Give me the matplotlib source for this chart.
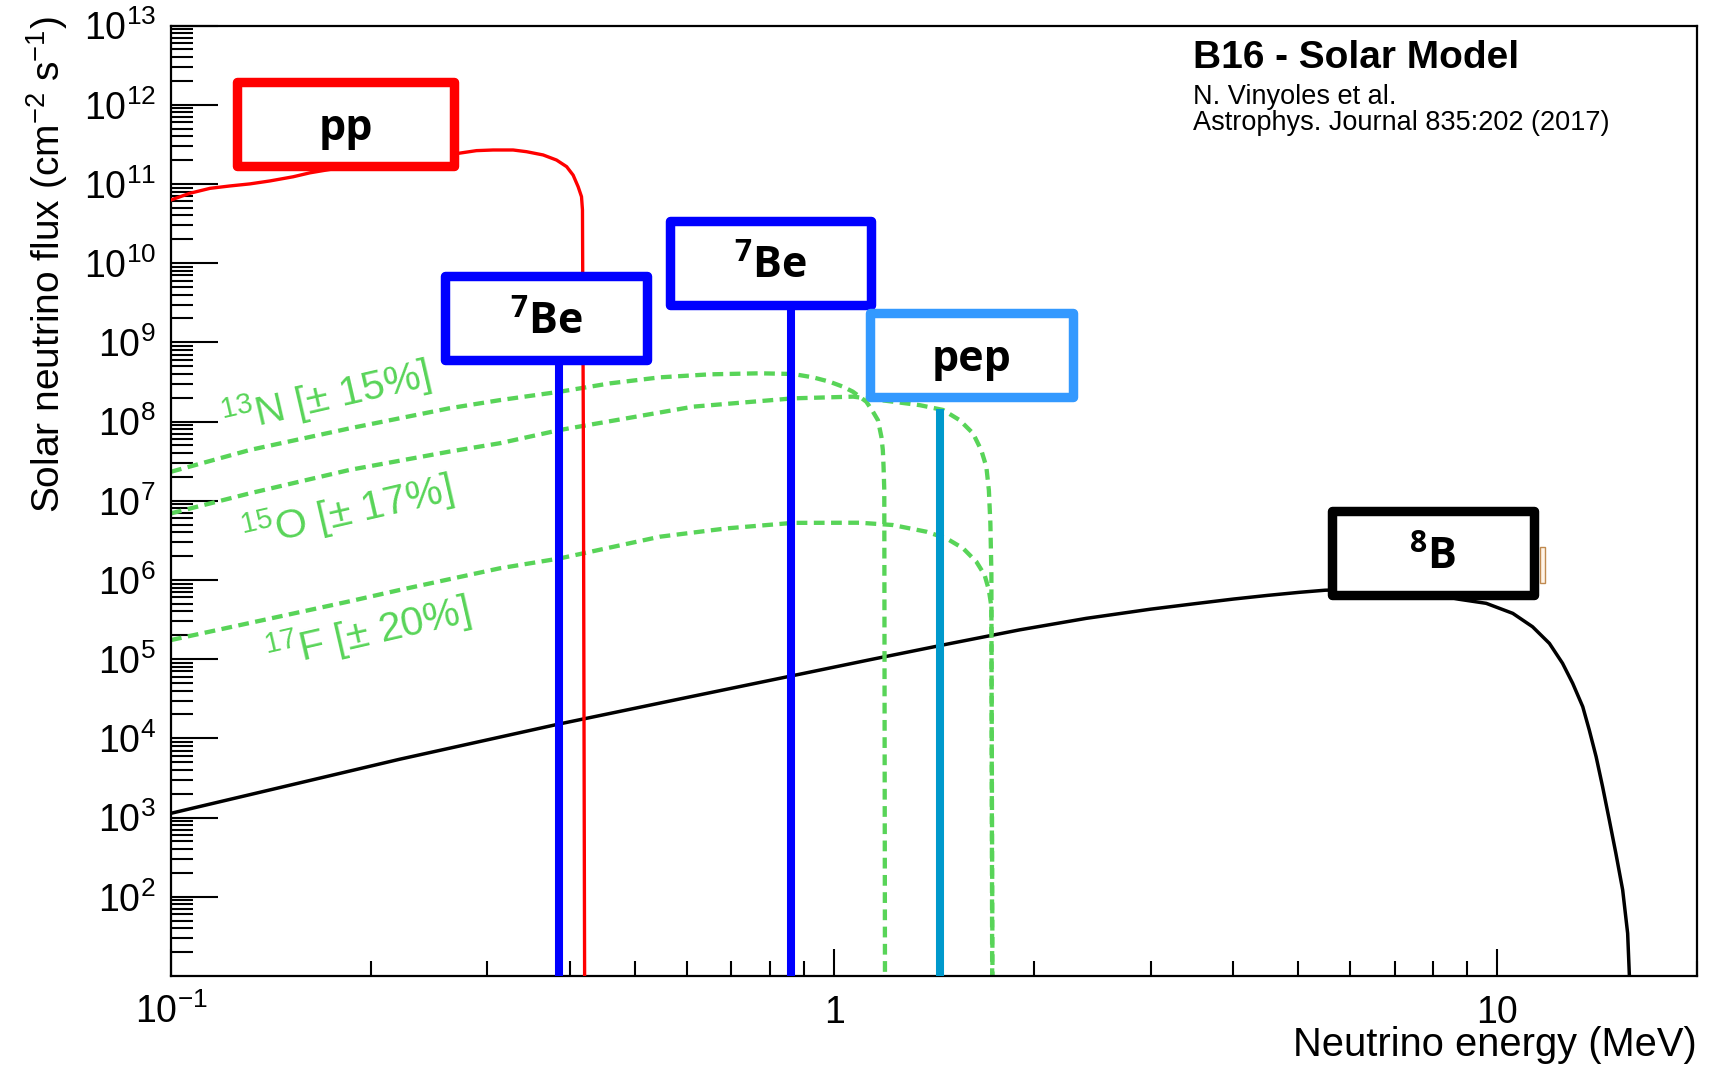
import numpy as np
import matplotlib
matplotlib.use("Agg")
import matplotlib.pyplot as plt
from matplotlib.patches import Rectangle
from matplotlib.ticker import FixedLocator, LogLocator, NullFormatter, FixedFormatter

# --------------------------------------------------------------------------
# SPECTRA (energy in MeV, flux in cm^-2 s^-1)
# --------------------------------------------------------------------------
pp_energy = [0.1, 0.1068, 0.1145, 0.1227, 0.1315, 0.141, 0.1528, 0.162, 0.2,
             0.24, 0.271, 0.2888, 0.306, 0.328, 0.3437, 0.364, 0.3814, 0.395,
             0.404, 0.4111, 0.4159, 0.4173, 0.4185, 0.4205]
pp_flux = [6.27e10, 7.62e10, 8.79e10, 9.42e10, 1.0e11, 1.09e11, 1.23e11,
           1.38e11, 1.86e11, 2.24e11, 2.43e11, 2.63e11, 2.68e11, 2.68e11,
           2.55e11, 2.32e11, 2.0e11, 1.65e11, 1.29e11, 9.2e10, 6.9e10,
           4.7e10, 1e8, 5]

b8_energy = [0.1, 0.221, 0.384, 0.6, 1.131, 1.5, 1.904, 2.4, 3.0, 3.5, 4.0,
             4.5, 5.03, 5.5, 6.2, 7.0, 8.0, 8.76, 9.62, 10.55, 11.3, 11.98,
             12.54, 12.99, 13.45, 13.76, 14.09, 14.41, 14.75, 15.09, 15.45,
             15.72, 15.87]
b8_flux = [1.13e3, 5.43e3, 1.51e4, 3.28e4, 9.8e4, 1.58e5, 2.34e5, 3.27e5,
           4.27e5, 5.01e5, 5.73e5, 6.37e5, 6.97e5, 7.41e5, 7.59e5, 7.41e5,
           6.61e5, 5.69e5, 5.06e5, 3.78e5, 2.56e5, 1.58e5, 8.85e4, 4.94e4,
           2.51e4, 1.27e4, 5.86e3, 2.45e3, 9.29e2, 3.53e2, 1.22e2, 34.5, 5]

n13_energy = [0.1, 0.1315, 0.186, 0.263, 0.313, 0.386, 0.459, 0.546, 0.649,
              0.772, 0.867, 0.929, 0.984, 1.031, 1.067, 1.092, 1.118, 1.144,
              1.164, 1.178, 1.184, 1.187, 1.19, 1.193]
n13_flux = [2.32e7, 4.37e7, 8.2e7, 1.47e8, 1.86e8, 2.38e8, 3.03e8, 3.61e8,
            3.94e8, 4.06e8, 3.98e8, 3.61e8, 3.18e8, 2.75e8, 2.38e8, 2.06e8,
            1.78e8, 1.33e8, 1.04e8, 6.43e7, 4.37e7, 2.69e7, 1.36e7, 5]

o15_energy = [0.1, 0.1315, 0.186, 0.263, 0.313, 0.386, 0.613, 0.867, 1.068,
              1.226, 1.345, 1.459, 1.546, 1.619, 1.666, 1.696, 1.711, 1.72,
              1.726, 1.731]
o15_flux = [6.92e6, 1.24e7, 2.45e7, 4.17e7, 5.31e7, 7.82e7, 1.54e8, 1.96e8,
            2.06e8, 1.78e8, 1.61e8, 1.40e8, 1.04e8, 7.1e7, 4.37e7, 2.69e7,
            1.36e7, 5.19e6, 1.2e6, 5]

f17_energy = [0.1, 0.186, 0.221, 0.313, 0.386, 0.546, 0.688, 0.867, 1.093,
              1.226, 1.377, 1.476, 1.564, 1.638, 1.686, 1.711, 1.726, 1.733]
f17_flux = [1.74e5, 5.37e5, 7.45e5, 1.4e6, 1.87e6, 3.51e6, 4.47e6, 5.25e6,
            5.27e6, 4.93e6, 4.06e6, 3.35e6, 2.51e6, 1.70e6, 1.15e6, 7.45e5,
            4.59e5, 5]

# monochromatic lines
be7_energy = [0.3843, 0.8613]
be7_flux = [5.15e8, 4.42e9]
pep_energy = [1.442]
pep_flux = [1.44e8]

cno_labels = [r"$^{13}$N [± 15%]", r"$^{15}$O [± 17%]", r"$^{17}$F [± 20%]"]
x_tick_values = [0.1, 1, 10]
x_tick_labels = [r"$10^{-1}$", "1", "10"]

Y_MIN, Y_MAX = 10, 1e13
X_MIN, X_MAX = 0.1, 20

GREEN = "#58d458"

# --------------------------------------------------------------------------
# FIGURE
# --------------------------------------------------------------------------
plt.rcParams["font.family"] = ["Liberation Sans", "DejaVu Sans"]
plt.rcParams["mathtext.default"] = "regular"

W, H = 1711, 1066
fig = plt.figure(figsize=(W / 100, H / 100), dpi=100)


def fx(px):
    return px / W


def fy(py):
    return 1 - py / H


ax = fig.add_axes([fx(171), fy(975.9), fx(1697 - 171), (975.9 - 25.5) / H])
ax.set_xscale("log")
ax.set_yscale("log")
ax.set_xlim(X_MIN, X_MAX)
ax.set_ylim(Y_MIN, Y_MAX)

ax.plot(b8_energy, b8_flux, color="black", lw=2.5, zorder=2)
for energy, flux in ((n13_energy, n13_flux), (o15_energy, o15_flux), (f17_energy, f17_flux)):
    ax.plot(energy, flux, color=GREEN, lw=3.1, dashes=(2.5, 1.5), zorder=2)
ax.plot(pp_energy, pp_flux, color="#ff0000", lw=2.4, zorder=3)
ax.vlines(be7_energy, Y_MIN, be7_flux, color="#0000ff", lw=5.8, zorder=3)
ax.vlines(pep_energy, Y_MIN, pep_flux, color="#0099cc", lw=5.8, zorder=3)

# axis cosmetics (ROOT look: inward ticks, left/bottom only)
ax.yaxis.set_major_locator(FixedLocator(10.0 ** np.arange(2, 14)))
ax.yaxis.set_minor_locator(LogLocator(base=10, subs=np.arange(2, 10), numticks=30))
ax.yaxis.set_minor_formatter(NullFormatter())
ax.xaxis.set_major_locator(FixedLocator(x_tick_values))
ax.xaxis.set_major_formatter(FixedFormatter(x_tick_labels))
ax.xaxis.set_minor_locator(LogLocator(base=10, subs=np.arange(2, 10), numticks=30))
ax.xaxis.set_minor_formatter(NullFormatter())

ax.tick_params(which="both", direction="in", width=1.5, labelsize=27,
               top=False, right=False)
ax.tick_params(axis="y", which="major", length=34, pad=11)
ax.tick_params(axis="y", which="minor", length=16)
ax.tick_params(axis="x", which="major", length=19.5, pad=34)
ax.tick_params(axis="x", which="minor", length=11)
for label in ax.get_xticklabels():
    label.set_verticalalignment("baseline")
for spine in ax.spines.values():
    spine.set_linewidth(1.6)

fig.text(fx(47), fy(16), r"Solar neutrino flux (cm$^{-2}$ s$^{-1}$)",
         rotation=90, ha="center", va="top", fontsize=28)
fig.text(fx(1697), fy(1056), "Neutrino energy (MeV)", ha="right",
         va="baseline", fontsize=28.7)

# model reference, top right
fig.text(fx(1193), fy(67.7), "B16 - Solar Model", fontsize=28,
         fontweight="bold", va="baseline")
fig.text(fx(1193), fy(103.7), "N. Vinyoles et al.", fontsize=19.5, va="baseline")
fig.text(fx(1193), fy(130), "Astrophys. Journal 835:202 (2017)", fontsize=19.5,
         va="baseline")

# CNO labels
label_centres = [(326, 397), (347, 512), (368, 632)]
for text, (cx, cy) in zip(cno_labels, label_centres):
    fig.text(fx(cx), fy(cy), text, color=GREEN, fontsize=29.5, rotation=13,
             rotation_mode="anchor", ha="center", va="center")

# --------------------------------------------------------------------------
# LABEL BOXES (pixel positions of the border centre lines)
# --------------------------------------------------------------------------
boxes = [
    ("pp", 237.5, 82, 453.5, 166, "#ff0000"),
    (r"$^{7}$Be", 445.3, 275.8, 647.4, 360.3, "#0000ff"),
    (r"$^{7}$Be", 669.6, 220.5, 871.3, 304.5, "#0000ff"),
    ("pep", 870.4, 312.5, 1073.3, 397, "#3399ff"),
    (r"$^{8}$B", 1332, 510.8, 1533.5, 595.3, "#000000"),
]
for text, x0, y0, x1, y1, colour in boxes:
    fig.add_artist(Rectangle((fx(x0), fy(y1)), fx(x1 - x0), (y1 - y0) / H,
                             transform=fig.transFigure, facecolor="white",
                             edgecolor=colour, lw=6.8, joinstyle="round",
                             zorder=5))
    fig.text(fx((x0 + x1) / 2), fy((y0 + y1) / 2 + 16.5), text,
             family=["Open Sans", "DejaVu Sans"], fontweight="bold", fontsize=31,
             ha="center", va="baseline", zorder=6)

# small leftover marker at the right of the 8B box
fig.add_artist(Rectangle((fx(1540), fy(583)), fx(5), 36 / H,
                         transform=fig.transFigure, facecolor="#fff4e8",
                         edgecolor="#c08a50", lw=1.0, zorder=4))

fig.savefig("out.png", dpi=100)
